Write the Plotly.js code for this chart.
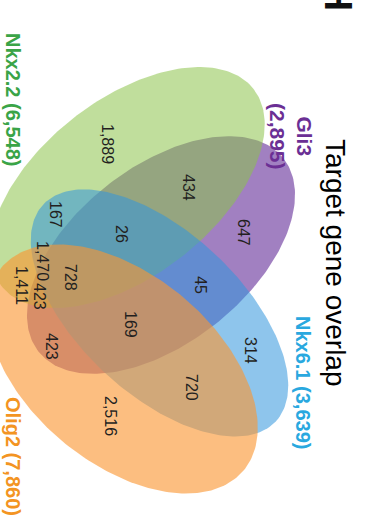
<!DOCTYPE html>
<html>
<head>
<meta charset="utf-8">
<script src="https://cdn.plot.ly/plotly-3.0.1.min.js"></script>
<style>
  html, body { margin: 0; padding: 0; background: #ffffff; overflow: hidden; }
  #chart { width: 367px; height: 529px; }
</style>
</head>
<body>
<div id="chart"></div>
<script>
// ---- data ----------------------------------------------------------------
// Target gene sets and their total sizes
const setNames  = ["Gli3", "Nkx2.2", "Nkx6.1", "Olig2"];
const setTotals = [2895, 6548, 3639, 7860];

// Gene counts for each region of the four-way overlap
const regionSets = [
  "Nkx2.2", "Gli3", "Nkx6.1", "Olig2",
  "Nkx2.2+Gli3", "Gli3+Nkx6.1", "Nkx6.1+Olig2", "Nkx2.2+Olig2",
  "Nkx2.2+Nkx6.1", "Gli3+Olig2",
  "Nkx2.2+Gli3+Nkx6.1", "Gli3+Nkx6.1+Olig2", "Nkx2.2+Nkx6.1+Olig2", "Nkx2.2+Gli3+Olig2",
  "Nkx2.2+Gli3+Nkx6.1+Olig2"
];
const regionCounts = [1889, 647, 314, 2516, 434, 45, 720, 1411, 167, 423, 26, 169, 1470, 423, 728];

const chartTitle = "Target gene overlap";
const panelLetter = "H";

// ---- drawing geometry (pixel space: x right, y down) ----------------------
const W = 367, H = 529;

// one ellipse per set, in drawing order (later ones sit on top)
const ellipses = {
  "Gli3":   { cx: 161,   cy: 255,   a: 156, b: 88, angle: 38.3, fill: "rgba(110,60,160,0.65)" },
  "Nkx2.2": { cx: 127.5, cy: 187.5, a: 160, b: 88, angle: 38,   fill: "rgba(140,195,75,0.55)" },
  "Nkx6.1": { cx: 159.5, cy: 313,   a: 159, b: 81, angle: -43,  fill: "rgba(50,150,220,0.55)" },
  "Olig2":  { cx: 122.5, cy: 369,   a: 158, b: 94, angle: -40,  fill: "rgba(250,150,50,0.62)" }
};
const drawOrder = ["Gli3", "Nkx2.2", "Nkx6.1", "Olig2"];

// where each region count sits (same order as regionCounts)
const regionLabelXY = [
  [108, 144], [244, 232], [251, 350], [111, 416],
  [189, 187], [201, 285], [192, 387], [22, 285],
  [56, 214], [52, 346],
  [122, 234], [131, 324], [43, 261], [40, 296],
  [71, 277]
];

// set name labels
const setLabelStyle = {
  "Gli3":   { x: 291, y: 136, color: "#6b2f94", twoLines: true },
  "Nkx2.2": { x: 13,  y: 99,  color: "#3aa447" },
  "Nkx6.1": { x: 303, y: 382, color: "#29a8df" },
  "Olig2":  { x: 13,  y: 456, color: "#f39422" }
};

const fmt = v => v.toLocaleString("en-US");

function ellipseOutline(e) {
  const xs = [], ys = [];
  const th = e.angle * Math.PI / 180;
  const c = Math.cos(th), s = Math.sin(th);
  const n = 240;
  for (let i = 0; i <= n; i++) {
    const t = i / n * 2 * Math.PI;
    const u = e.a * Math.cos(t), v = e.b * Math.sin(t);
    xs.push(e.cx + u * c + v * s);
    ys.push(e.cy - u * s + v * c);
  }
  return { xs, ys };
}

const traces = drawOrder.map(name => {
  const e = ellipses[name];
  const p = ellipseOutline(e);
  return {
    type: "scatter", mode: "lines", x: p.xs, y: p.ys,
    fill: "toself", fillcolor: e.fill,
    line: { width: 0, color: "rgba(0,0,0,0)" },
    hoverinfo: "skip", name: name, showlegend: false
  };
});

const baseFont = "Liberation Sans, Arial, sans-serif";
const annotations = [];

// region counts
regionCounts.forEach((v, i) => {
  annotations.push({
    x: regionLabelXY[i][0], y: regionLabelXY[i][1], xref: "x", yref: "y",
    text: fmt(v), showarrow: false, textangle: 90,
    xanchor: "center", yanchor: "middle",
    font: { family: baseFont, size: 16, color: "#231f20" }
  });
});

// set labels
setNames.forEach((name, i) => {
  const st = setLabelStyle[name];
  const txt = st.twoLines ? `${name}<br>(${fmt(setTotals[i])})` : `${name} (${fmt(setTotals[i])})`;
  annotations.push({
    x: st.x, y: st.y, xref: "x", yref: "y",
    text: `<b>${txt}</b>`, showarrow: false, textangle: 90, align: "center",
    xanchor: "center", yanchor: "middle",
    font: { family: baseFont, size: st.twoLines ? 21 : 20, color: st.color }
  });
});

// title
annotations.push({
  x: 336, y: 263, xref: "x", yref: "y",
  text: chartTitle, showarrow: false, textangle: 90,
  xanchor: "center", yanchor: "middle",
  font: { family: baseFont, size: 28, color: "#000000" }
});

// panel letter, mostly above the top edge
annotations.push({
  x: 339, y: 0, xref: "x", yref: "y", yshift: 3,
  text: `<b>${panelLetter}</b>`, showarrow: false, textangle: 90,
  xanchor: "center", yanchor: "middle",
  font: { family: baseFont, size: 39, color: "#111111" }
});

const layout = {
  width: W, height: H,
  margin: { l: 0, r: 0, t: 0, b: 0, pad: 0 },
  paper_bgcolor: "#ffffff", plot_bgcolor: "#ffffff",
  xaxis: { range: [0, W], visible: false, fixedrange: true },
  yaxis: { range: [H, 0], visible: false, fixedrange: true },
  showlegend: false,
  annotations: annotations
};

Plotly.newPlot("chart", traces, layout, { staticPlot: true, displayModeBar: false });
</script>
</body>
</html>
